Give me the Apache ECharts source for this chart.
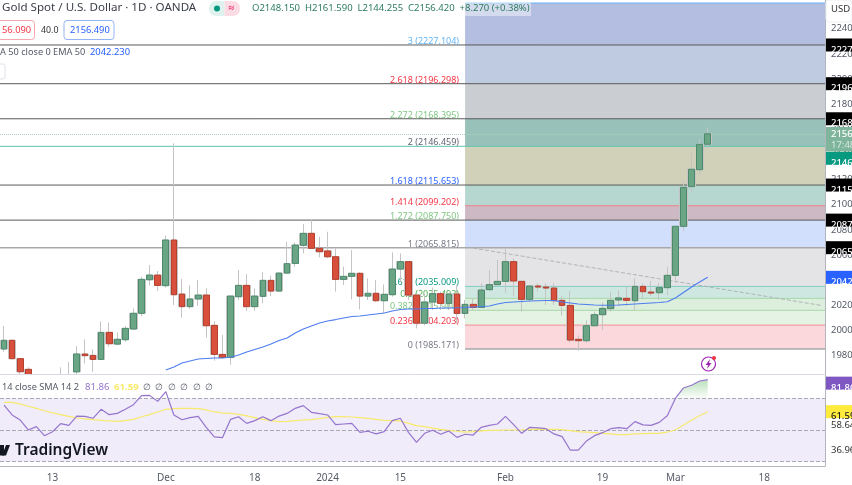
<!DOCTYPE html>
<html><head><meta charset="utf-8"><title>Gold Spot</title>
<script src="https://cdn.jsdelivr.net/npm/echarts@6/dist/echarts.min.js"></script>
<style>html,body{margin:0;padding:0;background:#fff}#main{width:852px;height:485px}</style>
</head><body><div id="main"></div>
<script>
const opens=[1985.2,1992.1,1977.5,1969,1960,1955,1950,1953,1958,1967,1981.2,1980.1,1976.9,1998.4,1989.1,1992.6,2001.1,2013.6,2040.3,2044,2035.6,2071.9,2028.9,2018.9,2025,2028.1,2004,1980.9,1978.5,2026.8,2035.8,2018.9,2027.1,2039.8,2031.3,2045.6,2053.3,2067.7,2077.2,2065.3,2063.2,2058.6,2040.6,2043,2045.4,2027.3,2029.5,2023.6,2028.4,2048.8,2054.7,2028.1,2005.8,2022.6,2029.2,2021.5,2028.9,2013.5,2020.7,2018.3,2032.4,2036.4,2039,2054.7,2039,2024.7,2035.3,2034.5,2033.7,2023.9,2019.9,1992.9,1991.8,2003.7,2012.5,2017.3,2024.2,2025.5,2023.6,2035,2030.5,2030,2034,2043.8,2082.8,2114.4,2127.9,2148.15];
const closes=[1992.1,1977.5,1967.1,1960,1955,1950,1953,1958,1962,1981.2,1979.9,1976.9,1998.4,1989.4,1992.9,2001.6,2013.6,2040.6,2044,2035.8,2071.9,2028.4,2018.9,2025,2028.1,2003.7,1980.9,1978.5,2027.3,2035.8,2018.9,2027.3,2039.8,2031.3,2045.6,2053.1,2067.9,2077.2,2065.3,2062.6,2058.6,2040.6,2043,2045.4,2027.3,2029.5,2023.6,2028.7,2048.8,2054.7,2028.1,2005.8,2022.6,2029.2,2021.5,2028.9,2013.5,2020.7,2018.3,2032.1,2036.4,2039,2054.7,2039.3,2024.7,2035.3,2034.5,2033.7,2023.6,2019.9,1992.3,1991.8,2003.7,2012.5,2017.5,2023.9,2025.8,2023.9,2035,2030.8,2029.7,2034,2043.8,2082.8,2113.8,2128.2,2148,2156.42];
const lows=[1983.1,1977,1962,1958,1950,1946,1944,1948,1955,1960,1973.8,1967,1976.9,1987,1988,1991,2000.3,2011.4,2035.6,2031.3,2034,2020.2,2010.1,2017.3,2019.6,1994.2,1975.9,1977.5,1972.7,2024.2,2015.4,2015.7,2021.5,2027.3,2031.3,2045.3,2050.7,2061.3,2065.3,2058.1,2057.3,2030.8,2036.1,2024.7,2016.7,2024.2,2022.8,2013.5,2026.8,2038.8,2024.2,2001.6,2004,2016.2,2016.2,2016.2,2005.6,2009.6,2016.2,2018.3,2031.6,2036,2030,2027.3,2014.9,2022.8,2030.8,2020.2,2020.2,2011.9,1990.2,1983.8,1990.2,2003.7,2000.3,2014.9,2019.4,2019.4,2015.7,2024.7,2027.3,2024.2,2028.1,2037.9,2079.3,2110.4,2123.6,2144.255];
const highs=[2003.5,1992.6,1978,1970.6,1963,1958,1958,1970.6,1975,1987.6,1992.9,1984.9,2007.2,2006.1,1998.4,2003.5,2017.5,2042.7,2052,2047.2,2075.6,2148.8,2040.9,2035.8,2040.1,2033.4,2007.4,1996.3,2027.3,2048.1,2044.9,2033.4,2046.4,2043.5,2045.6,2070.6,2070,2084.6,2088.3,2074.6,2078.5,2065.3,2050.7,2063.9,2046.4,2041.4,2040.1,2036.6,2062.1,2061.3,2055.2,2028.1,2029,2034,2030.8,2029.4,2036.1,2024.2,2025.5,2037.4,2048,2056,2065.3,2057.3,2039.3,2035.6,2037.4,2037.4,2037.4,2027.3,2031.3,1996,2008.2,2014.9,2022.3,2030.8,2032.1,2034.8,2041.4,2037.4,2039.3,2038,2050.7,2083,2119.7,2141.7,2152.3,2161.59];
const ema50=[1968.5,1970.8,1974,1975.6,1977.2,1977.6,1978,1978,1978.6,1980.4,1982.8,1984.8,1986.8,1989.1,1992,1994,1997.9,2001.1,2003.5,2005.9,2007.5,2008.6,2009.8,2011,2011.4,2012.2,2013,2013.8,2015.4,2016.6,2017,2017,2017.4,2017.4,2017.8,2017.8,2018,2018.2,2018.6,2019,2019.4,2021,2022.2,2022.6,2023,2023.4,2023.6,2023.8,2023.8,2022.6,2021.8,2021,2020.6,2020.2,2020,2020,2020.2,2020.6,2021,2021.4,2021.8,2022.2,2022.8,2025.8,2030.1,2034.5,2038.5,2042.23];
const emaStart=20;
const rsi=[65.8,59.5,56.3,50,52.1,46.4,48.9,54,52.9,58.8,58.6,57.4,63.1,59.7,60.5,63.1,66,71.7,71.9,68.1,74.3,59.5,56.5,57.8,58.6,51.7,45.6,45.1,56.7,58.4,54.2,55.9,58.4,55.9,58.8,60.5,63.7,65.4,61.2,60.3,59.5,53.4,53.8,54.2,48.5,49.2,47.5,49,55.9,57.4,48.5,42.2,47.9,49.8,47.3,49.4,45.3,47.3,46.8,51.7,52.9,53.8,58.6,53.4,47.9,51.7,51.3,50.8,47.5,45.8,37.3,37.3,43,46.4,48.3,50.8,51.5,50.8,55.3,53.2,52.9,54.8,59,70,76.6,78.3,81,81.86];
const rsiSma=[67.5,67.5,66.4,65,63.7,62.2,60.8,59.7,58.6,57.6,57,56.5,56.1,55.7,55.5,55.9,56.7,58.4,59.7,61.4,63.1,63.5,63.7,63.7,63.5,62.7,61.4,60.8,60.5,59.9,58.9,57.8,56.7,55.9,55.3,55.5,55.9,56.3,56.5,57.2,58,58.4,58.4,58.2,57.8,57.4,56.7,56.1,55.9,55.7,54.2,52.8,52.1,51.2,50.4,49.8,49.2,48.7,48.9,49.4,49.8,49.8,50,50,50,50.4,50.6,50.4,50.4,50.2,49.6,48.9,48.7,48.3,47.9,47.5,47,47,47.5,47.7,47.9,47.9,48.7,50,53.2,56.3,59,61.59];
const fibLevels=[3.414,3,2.618,2.272,2,1.618,1.414,1.272,1,0.618,0.5,0.382,0.236,0];
const fibPrices=[2260.5,2227.104,2196.298,2168.395,2146.459,2115.653,2099.202,2087.75,2065.815,2035.009,2025.493,2015.98,2004.203,1985.171];
const priceTicks=[1980,2000,2020,2040,2060,2080,2100,2120,2140,2160,2180,2200,2220,2240];
const tickIndex=[6,20,31,40,49,62,74,83,94];
const tickLabels=['13','Dec','18','2024','15','Feb','19','Mar','18'];
const rsiLevels=[30,50,70];
const lastClose=2156.42;
const trendFrom=[58,2065.5], trendTo=[101,2019.9];

const FONT='"Noto Sans"';
const N=102;
const categories=Array.from({length:N},(_,i)=>String(i));
const bandColors=['#b3bee0','#bfcbe0','#cacdd1','#98c1b9','#d0d1b8','#b5d7cf','#cdb9c4','#d1dffd','#e4e4e6','#cee8e1','#dcefdd','#e4f3e4','#fbd8dc'];
const lineColors=['#64b5f6','#5a5a5a','#5a5a5a','#5a5a5a','#5cc4b0','#5a5a5a','#ef7f88','#5a5a5a','#a9a9ad','#80cbc4','#a5d6a7','#a5d6a7','#ef8f96','#a9a9ad'];
const labelColors=[null,'#64b5f6','#f23645','#81c784','#5f6573','#2962ff','#f23645','#81c784','#787b86','#089981','#4caf50','#81c784','#f23645','#787b86'];
const fullWidth=[false,true,true,true,true,true,false,true,true,false,false,false,false,false];
const bandStart=57;

const bandRows=fibPrices.slice(0,-1).map((p,i)=>[bandStart,fibPrices[i+1],p]);
const lineRows=fibPrices.map((p,i)=>[bandStart,p]);
const pad=(arr,start)=>Array.from({length:start}).map(()=>null).concat(arr);
const bodies=opens.map((o,i)=>[o,closes[i],Math.min(o,closes[i]),Math.max(o,closes[i])]);
const full=opens.map((o,i)=>[o,closes[i],lows[i],highs[i]]);
const overIdx=83;
const rsiOver=rsi.map((v,i)=>i>=overIdx?v:null);
const trend=categories.map((c,i)=>i===trendFrom[0]?trendFrom[1]:i===trendTo[0]?trendTo[1]:null);

const mainBadges=[
 [2227.104,'2227.104','#000','#fff',0],
 [2196.298,'2196.298','#000','#fff',0],
 [2168.395,'2168.395','#000','#fff',0],
 [2115.653,'2115.653','#000','#fff',0],
 [2087.75,'2087.750','#000','#fff',0],
 [2065.815,'2065.815','#000','#fff',0],
 [2042.23,'2042.230','#2962ff','#fff',0],
 [2146.459,'2146.459','#089981','#fff',12]
];
const rsiBadges=[[81.86,'81.86','#7e57c2','#fff',3.5],[61.59,'61.59','#ffeb3b','#222',0]];

function badgeRender(params,api){
 const b=params.seriesIndex===BADGE_MAIN?mainBadges[params.dataIndex]:rsiBadges[params.dataIndex];
 const g=params.coordSys, y=api.coord([0,b[0]])[1]+b[4], x=g.x+g.width+1;
 return {type:'group',children:[
  {type:'rect',shape:{x:x,y:y-6.5,width:30,height:13},style:{fill:b[2]}},
  {type:'text',style:{x:x+5,y:y,text:b[1],fill:b[3],font:'500 9.5px '+FONT,textAlign:'left',textBaseline:'middle'}}
 ]};
}
let BADGE_MAIN=0;

const series=[
 {type:'custom',name:'fib zones',xAxisIndex:0,yAxisIndex:0,z:1,silent:true,encode:{x:0,y:[1,2]},data:bandRows,
  renderItem(params,api){
   const g=params.coordSys,a=api.coord([api.value(0),api.value(2)]),b=api.coord([api.value(0),api.value(1)]);
   return {type:'rect',shape:{x:a[0],y:a[1],width:g.x+g.width-a[0],height:b[1]-a[1]},style:{fill:bandColors[params.dataIndex]}};
  }},
 {type:'custom',name:'fib levels',xAxisIndex:0,yAxisIndex:0,z:1.5,silent:true,encode:{x:0,y:1},data:lineRows,
  renderItem(params,api){
   const i=params.dataIndex,g=params.coordSys,a=api.coord([api.value(0),api.value(1)]);
   const x0=fullWidth[i]?g.x:a[0];
   const ch=[{type:'line',shape:{x1:x0,y1:a[1],x2:g.x+g.width,y2:a[1]},style:{stroke:lineColors[i],lineWidth:i===8||i===13?1.4:1}}];
   if(labelColors[i]) ch.push({type:'text',style:{x:a[0]-6,y:a[1]-8,text:fibLevels[i]+' ('+fibPrices[i].toFixed(3)+')',fill:labelColors[i],font:'9px '+FONT,textAlign:'right',textBaseline:'middle'}});
   return {type:'group',children:ch};
  }},
 {type:'line',name:'last',xAxisIndex:0,yAxisIndex:0,z:1.6,silent:true,showSymbol:false,lineStyle:{opacity:0},data:[],
  markLine:{z:1.6,silent:true,symbol:'none',label:{show:false},lineStyle:{color:'#a8d3bd',type:'dotted',width:1},data:[{yAxis:lastClose}]}},
 {type:'line',name:'trend',xAxisIndex:0,yAxisIndex:0,z:1.7,silent:true,connectNulls:true,showSymbol:false,symbol:'none',
  lineStyle:{color:'#b0b3b8',type:'dashed',width:1},data:trend},
 {type:'candlestick',name:'XAUUSD',xAxisIndex:0,yAxisIndex:0,z:3,barWidth:7.6,silent:true,clip:true,data:full,
  itemStyle:{color:'#c9c9c9',color0:'#c9c9c9',borderColor:'#c4c4c4',borderColor0:'#c4c4c4',borderWidth:1}},
 {type:'candlestick',name:'bodies',xAxisIndex:0,yAxisIndex:0,z:4,barWidth:6.2,silent:true,clip:true,data:bodies,
  itemStyle:{color:'#6aa586',color0:'#d84f3c',borderColor:'#4d8a6c',borderColor0:'#b5402f',borderWidth:1}},
 {type:'line',name:'EMA 50',xAxisIndex:0,yAxisIndex:0,z:5,silent:true,clip:true,showSymbol:false,symbol:'none',
  lineStyle:{color:'#4d7cf0',width:1.1},data:pad(ema50,emaStart)},
 {type:'line',name:'RSI zone',xAxisIndex:1,yAxisIndex:1,z:6,silent:true,showSymbol:false,symbol:'none',lineStyle:{opacity:0},data:[],
  markArea:{z:6,silent:true,itemStyle:{color:'#f0ecf9'},data:[[{yAxis:rsiLevels[0]},{yAxis:rsiLevels[2]}]]},
  markLine:{z:6.5,silent:true,symbol:'none',label:{show:false},lineStyle:{color:'#a9a9b3',type:'dashed',width:1},data:rsiLevels.map(v=>({yAxis:v}))}},
 {type:'line',name:'RSI over',xAxisIndex:1,yAxisIndex:1,z:7,silent:true,showSymbol:false,symbol:'none',lineStyle:{opacity:0},data:rsiOver,
  areaStyle:{origin:70,color:new echarts.graphic.LinearGradient(0,0,0,1,[{offset:0,color:'rgba(76,175,80,0.55)'},{offset:1,color:'rgba(76,175,80,0.03)'}])}},
 {type:'line',name:'RSI SMA',xAxisIndex:1,yAxisIndex:1,z:8,silent:true,showSymbol:false,symbol:'none',lineStyle:{color:'#f8e96c',width:1.2},data:rsiSma},
 {type:'line',name:'RSI',xAxisIndex:1,yAxisIndex:1,z:9,silent:true,showSymbol:false,symbol:'none',lineStyle:{color:'#9575cd',width:1.2},data:rsi},
 {type:'custom',name:'price badges',xAxisIndex:0,yAxisIndex:0,z:20,silent:true,encode:{x:0,y:1},data:mainBadges.map(b=>[0,b[0]]),renderItem:badgeRender},
 {type:'custom',name:'rsi badges',xAxisIndex:1,yAxisIndex:1,z:20,silent:true,encode:{x:0,y:1},data:rsiBadges.map(b=>[0,b[0]]),renderItem:badgeRender}
];
BADGE_MAIN=series.findIndex(s=>s.name==='price badges');

const T=(x,y,text,fill,size,opt)=>({type:'text',z:30,silent:true,x:x,y:y,style:{text:text,fill:fill,font:(opt&&opt.weight||'')+' '+size+'px '+FONT,textAlign:'left',textVerticalAlign:'middle'}});
const R=(x,y,w,h,fill,stroke,r)=>({type:'rect',z:29,silent:true,shape:{x:x,y:y,width:w,height:h,r:r||0},style:{fill:fill,stroke:stroke||null,lineWidth:1}});
const graphic=[
 {type:'rect',z:5.5,silent:true,shape:{x:0,y:375,width:825,height:91},style:{fill:'#fff'}},
 R(826,0,26,22,'#fff','#eceef2',3),
 T(831,9,'USD','#333',9.5),
 R(0,0,200,16,'rgba(255,255,255,0.75)'),
 T(2,8,'Gold Spot / U.S. Dollar · 1D · OANDA','#3a3e48',11.6),
 R(209,1,15.5,15,'#dff2ee',null,[7,0,0,7]),R(224.5,1,15.5,15,'#fbdbe4',null,[0,7,7,0]),
 {type:'circle',z:30,silent:true,shape:{cx:217,cy:8.5,r:3},style:{fill:'#089981'}},
 T(228.5,8,'≈','#e91e63',10,{weight:'bold'}),
 R(249,1,282,15,'rgba(255,255,255,0.45)'),
 T(252,8,'O2148.150  H2161.590  L2144.255  C2156.420  +8.270 (+0.38%)','#2e7d5f',9.5),
 R(-4,20.5,38.5,19,'#fff','#f7a6ad',3),
 T(2,30,'56.090','#f23645',9.3),
 T(41,30,'40.0','#333',8.8),
 R(64,20.5,50,19,'#fff','#93b4f5',3),
 T(70,30,'2156.490','#2962ff',9.3),
 T(0,52,'A 50 close 0 EMA 50','#555a66',9.2),
 T(90,52,'2042.230','#2962ff',9.4),
 R(-6,64,11,15,'#fff','#dfe1e6',2),
 T(2,387.5,'14 close SMA 14 2','#555a66',9.2),
 T(85,387.5,'81.86','#9575cd',9.6),
 T(114,387.5,'61.59','#f8e96c',9.6,{weight:'bold'}),
 T(143,387.5,'∅  ∅  ∅  ∅  ∅  ∅','#555a66',8.6),
 {type:'polygon',z:30,silent:true,shape:{points:[[-1,445],[4,445],[4,455.5],[-1,455.5]]},style:{fill:'#131722'}},
 {type:'polygon',z:30,silent:true,shape:{points:[[6,445],[10,445],[6,455.5],[2,455.5]]},style:{fill:'#131722'}},
 T(15,451,'TradingView','#131722',15.5,{weight:'600'}),
 T(831,425,'58.64','#333',9.5),
 T(831,450,'36.96','#333',9.5),
 {type:'circle',z:30,silent:true,shape:{cx:708.5,cy:364,r:7},style:{fill:'#fff',stroke:'#9c27b0',lineWidth:1.2}},
 {type:'polygon',z:31,silent:true,shape:{points:[[710,359],[705.5,365],[708,365],[707,369],[711.5,363],[709,363]]},style:{fill:'#9c27b0'}},
 {type:'circle',z:31,silent:true,shape:{cx:714,cy:358,r:2},style:{fill:'#f23645'}},
 {type:'line',z:28,silent:true,shape:{x1:0,y1:374.5,x2:825,y2:374.5},style:{stroke:'#d8dbe2',lineWidth:1}},
 {type:'rect',z:27,silent:true,shape:{x:826,y:127,width:30,height:24.5},style:{fill:'#7fb59b'}},
 T(831,134,'2156.420','#fff',9.5,{weight:'500'}),
 T(831,145,'17:48:21','#d6eadf',9.5)
];

const chart=echarts.init(document.getElementById('main'));
chart.setOption({
 animation:false,backgroundColor:'#fff',
 textStyle:{fontFamily:FONT},
 grid:[{left:0,top:0,width:825,height:374,show:false,containLabel:false,outerBoundsMode:'none'},{left:0,top:375,width:825,height:91,show:false,containLabel:false,outerBoundsMode:'none'}],
 xAxis:[
  {type:'category',gridIndex:0,data:categories,boundaryGap:true,axisLine:{show:false},axisTick:{show:false},axisLabel:{show:false},splitLine:{show:false}},
  {type:'category',gridIndex:1,data:categories,boundaryGap:true,position:'bottom',
   axisLine:{show:true,lineStyle:{color:'#b2b5be',width:1}},axisTick:{show:false},splitLine:{show:false},
   axisLabel:{show:true,margin:7,fontSize:10,color:'#555a66',fontFamily:FONT,
    interval:(i)=>tickIndex.includes(i),
    formatter:(v,i)=>{const k=tickIndex.indexOf(i);return k<0?'':tickLabels[k];},hideOverlap:false}}
 ],
 yAxis:[
  {type:'value',gridIndex:0,position:'right',min:1965.3,max:2262.9,splitLine:{show:false},axisTick:{show:false},
   axisLine:{show:true,onZero:false,lineStyle:{color:'#b2b5be',width:1}},
   axisLabel:{show:true,margin:6,fontSize:9.5,color:'#555a66',fontFamily:FONT,customValues:priceTicks,formatter:(v)=>Number(v).toFixed(3),hideOverlap:false}},
  {type:'value',gridIndex:1,position:'right',min:27.2,max:84.8,splitLine:{show:false},axisTick:{show:false},
   axisLine:{show:true,onZero:false,lineStyle:{color:'#b2b5be',width:1}},axisLabel:{show:false}}
 ],
 series:series,
 graphic:graphic
});
</script></body></html>
